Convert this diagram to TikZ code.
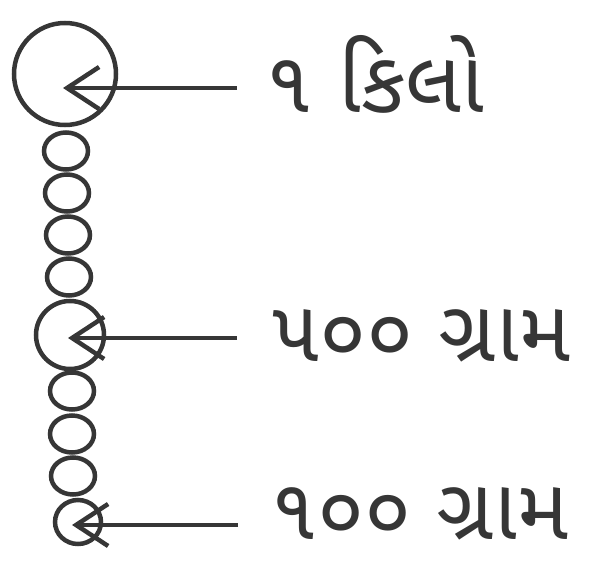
\documentclass[tikz,border=0pt]{standalone}
\usepackage{fontspec}
\newfontfamily\gujfont[Script=Gujarati]{Noto Sans Gujarati UI}
\usetikzlibrary{arrows.meta,shapes.geometric}
\definecolor{ink}{HTML}{363636}
\tikzset{
  bead/.style={ellipse, draw=ink, line width=4.5bp, inner sep=0pt, minimum width=44bp, minimum height=37bp},
  bigbead/.style={circle, draw=ink, line width=4.5bp, inner sep=0pt},
  pointer/.style={draw=ink, line width=4.5bp, -{Straight Barb[length=32bp,width=42bp]}},
  lbl/.style={anchor=base west, inner sep=0pt, text=ink, font=\gujfont\fontsize{86bp}{100bp}\selectfont}
}
\begin{document}
\begin{tikzpicture}[x=1bp,y=-1bp]
\useasboundingbox (0,0) rectangle (609,563);
\node[bigbead, minimum size=102bp] (b1) at (65,74) {};
\node[bead] (s1) at (66,151) {};
\node[bead] (s2) at (67,193) {};
\node[bead] (s3) at (68,235) {};
\node[bead] (s4) at (69,277) {};
\node[bigbead, minimum size=68bp] (b2) at (70,335) {};
\node[bead] (s5) at (72,391) {};
\node[bead] (s6) at (72,434) {};
\node[bead] (s7) at (73,476) {};
\node[bead, minimum width=46bp, minimum height=44bp] (s8) at (78,522) {};
\node[lbl] (l1) at (265,113) {૧ કિલો};
\node[lbl] (l2) at (272,361) {૫૦૦ ગ્રામ};
\node[lbl] (l3) at (270,539) {૧૦૦ ગ્રામ};
\coordinate (t1) at (237,88);
\coordinate (h1) at (63,88);
\coordinate (t2) at (237,338);
\coordinate (h2) at (68,338);
\coordinate (t3) at (238,525);
\coordinate (h3) at (72,525);
\draw[pointer] (t1) -- (h1);
\draw[pointer] (t2) -- (h2);
\draw[pointer] (t3) -- (h3);
\end{tikzpicture}
\end{document}
